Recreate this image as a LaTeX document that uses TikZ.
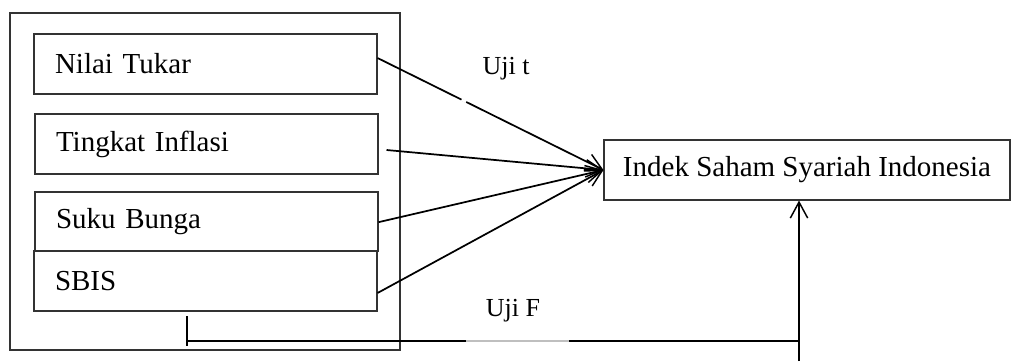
\documentclass[tikz,border=0pt]{standalone}
\usepackage{fontspec}
\setmainfont{Liberation Serif}
\usetikzlibrary{arrows.meta,calc}
\begin{document}
\begin{tikzpicture}[x=0.75pt,y=-0.75pt,
  frame/.style={draw=black!80,line width=0.8pt},
  varbox/.style={frame,minimum height=45pt,text width=225.75pt,inner xsep=15.75pt,align=left,
    font=\fontsize{21.75pt}{26pt}\selectfont},
  depbox/.style={frame,minimum width=304.5pt,minimum height=45pt,inner xsep=0pt,
    font=\fontsize{21.75pt}{26pt}\selectfont},
  lbl/.style={inner sep=0pt,font=\fontsize{19.5pt}{23pt}\selectfont},
  link/.style={line width=1.3pt,-{Straight Barb[length=12pt,width=13pt,line width=1.1pt]}},
  plain/.style={line width=1.3pt}]
\useasboundingbox (0,0) rectangle (1012,361);

% group of independent variables
\node[frame,minimum width=292.5pt,minimum height=252.75pt] (outer) at (205,181.5) {};
\node[varbox] (nt) at (205.5,64) {Nilai Tukar};
\node[varbox] (ti) at (206.5,144) {Tingkat Inflasi};
\node[varbox,minimum height=44.25pt] (sb) at (206.5,221.5) {Suku Bunga};
\node[varbox] (sbis) at (205.5,281) {SBIS};

% dependent variable
\node[depbox] (isi) at (807,170) {Indek Saham Syariah Indonesia};

% partial tests
\draw[link] ([yshift=4.5pt]nt.east) -- (isi.west)
  coordinate[pos=0.372] (g1) coordinate[pos=0.392] (g2);
\draw[white,line width=2pt] (g1) -- (g2);
\draw[link] ([xshift=6pt,yshift=-4.5pt]ti.east) -- (isi.west);
\draw[link] ([yshift=-0.5pt]sb.east) -- (isi.west);
\draw[link] ([yshift=-9pt]sbis.east) -- (isi.west);
\node[lbl] (ujit) at (506,69) {Uji t};

% simultaneous test
\coordinate (ftop) at (187,316);
\coordinate (fleft) at (187,341);
\coordinate (fcorner) at (799,341);
\coordinate (fbot) at (799,361);
\draw[plain] (ftop) -- ([yshift=-3.75pt]fleft);
\draw[plain] (fleft) -- (fcorner);
\draw[black!25,line width=1.3pt] (466,341) -- (569,341);
\draw[link] (fbot) -- (fbot |- isi.south);
\node[lbl] (ujif) at (513,311) {Uji F};
\end{tikzpicture}
\end{document}
